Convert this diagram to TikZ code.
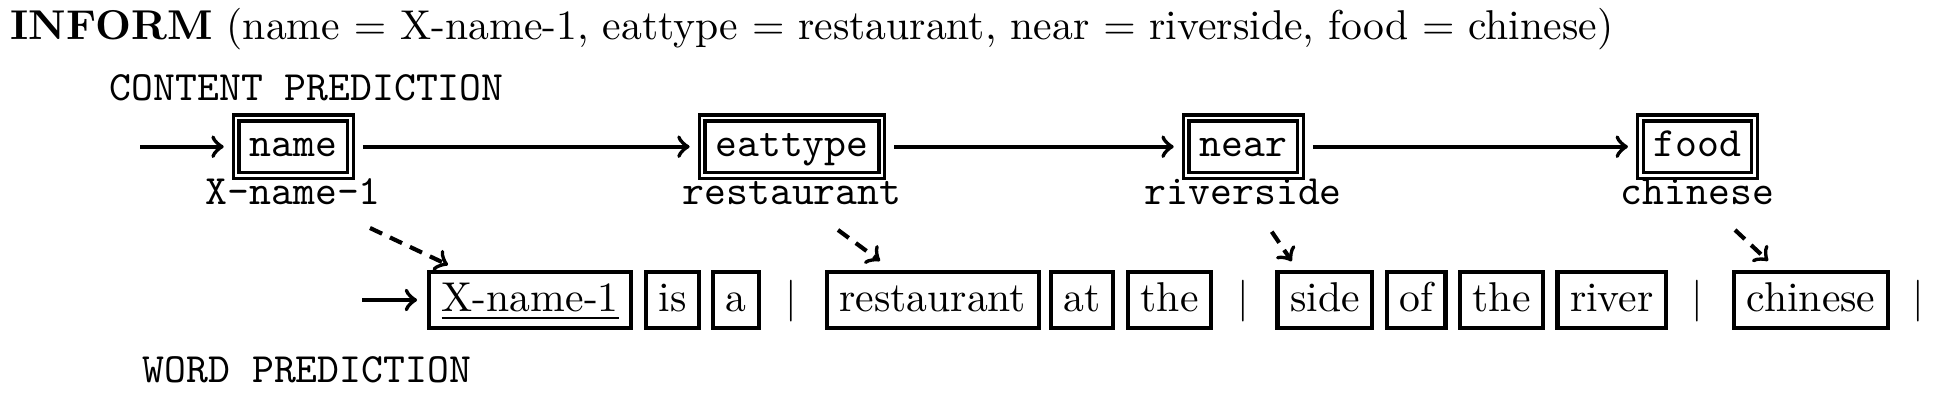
\documentclass[tikz,border=0pt]{standalone}
\usetikzlibrary{calc}
\begin{document}
\begin{tikzpicture}[x=0.24pt,y=-0.24pt,
  slot/.style={draw, line width=0.8pt, double, double distance=0.6pt, font=\ttfamily,
    inner xsep=3.2pt, inner ysep=0pt, minimum height=13.8pt, text height=4.8pt, text depth=0pt},
  word/.style={draw, line width=1pt, inner xsep=3pt, inner ysep=0pt, minimum height=13.4pt,
    text height=7pt, text depth=1.4pt, anchor=west},
  val/.style={font=\ttfamily, inner sep=0pt, anchor=base},
  sepbar/.style={inner sep=0pt, anchor=base},
  arr/.style={->, line width=1pt},
  darr/.style={->, line width=1pt, dash pattern=on 3.2pt off 2.1pt},
  lab/.style={font=\ttfamily, inner sep=0pt, anchor=base west}]
\useasboundingbox (0,0) rectangle (1937,401);

\node[anchor=base west, inner sep=0pt] (title) at (10,39.5)
  {\textbf{INFORM} (name $=$ X-name-1, eattype $=$ restaurant, near $=$ riverside, food $=$ chinese)};
\node[lab] (cp) at (109,101) {CONTENT PREDICTION};
\node[lab] (wp) at (142,383) {WORD PREDICTION};

% content slots
\node[slot] (s1) at (293.3,146.7) {name};
\node[slot] (s2) at (792,146.7) {eattype};
\node[slot] (s3) at (1243.3,146.7) {near};
\node[slot] (s4) at (1697.5,146.7) {food};

\node[val] (v1) at (293.3,205) {X-name-1};
\node[val] (v2) at (792,205) {restaurant};
\node[val] (v3) at (1243.3,205) {riverside};
\node[val] (v4) at (1697.5,205) {chinese};

\coordinate (cstart) at (140,146.7);
\draw[arr, shorten >=2.6pt] (cstart) -- (s1.west);
\draw[arr, shorten <=2.6pt, shorten >=2.6pt] (s1) -- (s2);
\draw[arr, shorten <=2.6pt, shorten >=2.6pt] (s2) -- (s3);
\draw[arr, shorten <=2.6pt, shorten >=2.6pt] (s3) -- (s4);

% words
\node[word] (w1) at (427.1,300) {\underline{X-name-1}};
\node[word] (w2) at (644.1,300) {is};
\node[word] (w3) at (711.1,300) {a};
\node[sepbar] (b1) at (791,311.7) {$|$};
\node[word] (w4) at (824.7,300) {restaurant};
\node[word] (w5) at (1049.1,300) {at};
\node[word] (w6) at (1126.1,300) {the};
\node[sepbar] (b2) at (1243,311.7) {$|$};
\node[word] (w7) at (1275.4,300) {side};
\node[word] (w8) at (1384.8,300) {of};
\node[word] (w9) at (1458.1,300) {the};
\node[word] (w10) at (1555.4,300) {river};
\node[sepbar] (b3) at (1697.7,311.7) {$|$};
\node[word] (w11) at (1732.1,300) {chinese};
\node[sepbar] (b4) at (1918,311.7) {$|$};

\coordinate (wstart) at (362,300);
\draw[arr, shorten >=2.4pt] (wstart) -- (w1.west);

% alignment arrows
\draw[darr] ($(v1.base)+(76.7,23)$) -- ($(w1.north west)+(20.9,-5.1)$);
\draw[darr] ($(v2.base)+(46,25)$) -- ($(w4.north west)+(55.3,-9.1)$);
\draw[darr] ($(v3.base)+(28.4,26.7)$) -- ($(w7.north west)+(16.3,-8.8)$);
\draw[darr] ($(v4.base)+(37.5,25)$) -- ($(w11.north west)+(35.9,-9.1)$);
\end{tikzpicture}
\end{document}
